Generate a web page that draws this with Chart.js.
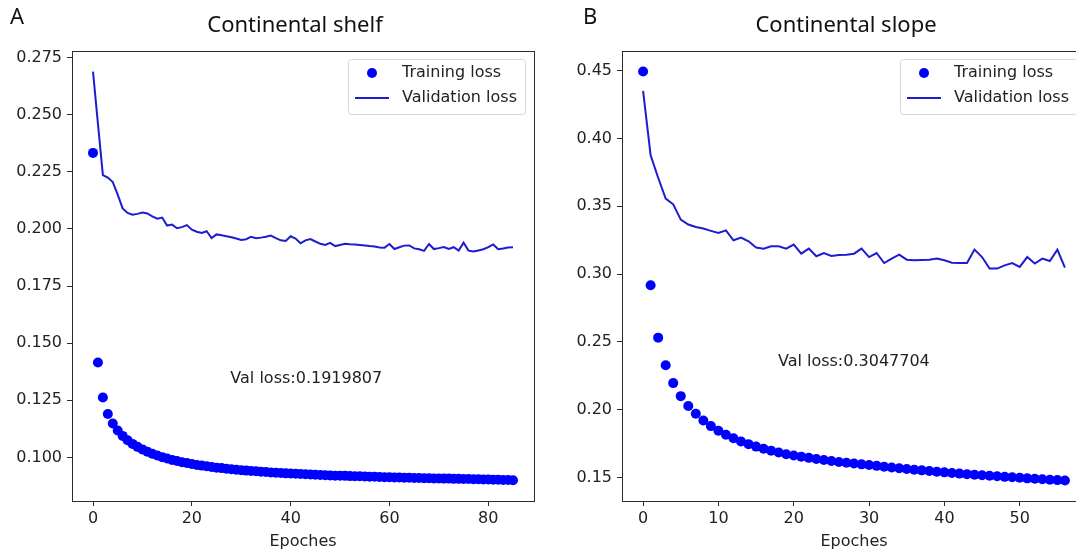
<!DOCTYPE html>
<html>
<head>
<meta charset="utf-8">
<script src="https://cdn.jsdelivr.net/npm/chart.js@4.4.1/dist/chart.umd.min.js"></script>
<style>
  html, body { margin: 0; padding: 0; background: #fff; overflow: hidden; }
  body { width: 1076px; height: 554px; position: relative; }
  canvas { position: absolute; top: 0; }
  #shelf-chart { left: 0; }
  #slope-chart { left: 560px; }
</style>
</head>
<body>
<canvas id="shelf-chart" width="560" height="554"></canvas>
<canvas id="slope-chart" width="560" height="554"></canvas>
<script>
// Panel A: continental shelf, epochs 0..85
const shelfTrainLoss = [
  0.2333, 0.1415, 0.1262, 0.1190, 0.1148, 0.1118, 0.1094, 0.1075, 0.1059, 0.1046,
  0.1035, 0.1025, 0.1016, 0.1008, 0.1001, 0.0995, 0.0989, 0.0984, 0.0979, 0.0975,
  0.0971, 0.0967, 0.0964, 0.0961, 0.0958, 0.0955, 0.0953, 0.0950, 0.0948, 0.0946,
  0.0944, 0.0942, 0.0940, 0.0939, 0.0937, 0.0936, 0.0934, 0.0933, 0.0932, 0.0930,
  0.0929, 0.0928, 0.0927, 0.0926, 0.0925, 0.0924, 0.0923, 0.0922, 0.0921, 0.0920,
  0.0920, 0.0919, 0.0918, 0.0917, 0.0917, 0.0916, 0.0915, 0.0915, 0.0914, 0.0913,
  0.0913, 0.0912, 0.0912, 0.0911, 0.0911, 0.0910, 0.0910, 0.0909, 0.0909, 0.0908,
  0.0908, 0.0907, 0.0907, 0.0906, 0.0906, 0.0905, 0.0905, 0.0904, 0.0904, 0.0903,
  0.0903, 0.0902, 0.0902, 0.0901, 0.0901, 0.0900
];
const shelfValLoss = [
  0.2689, 0.2460, 0.2236, 0.2225, 0.2205, 0.2150, 0.2090, 0.2070, 0.2062, 0.2066,
  0.2072, 0.2068, 0.2055, 0.2045, 0.2050, 0.2015, 0.2019, 0.2003, 0.2008, 0.2017,
  0.1997, 0.1988, 0.1982, 0.1990, 0.1960, 0.1976, 0.1972, 0.1968, 0.1964, 0.1958,
  0.1952, 0.1955, 0.1966, 0.1959, 0.1962, 0.1966, 0.1971, 0.1960, 0.1950, 0.1947,
  0.1968, 0.1958, 0.1937, 0.1950, 0.1956, 0.1945, 0.1935, 0.1930, 0.1939, 0.1925,
  0.1930, 0.1935, 0.1933, 0.1932, 0.1930, 0.1928, 0.1925, 0.1923, 0.1919, 0.1918,
  0.1934, 0.1912, 0.1920, 0.1927, 0.1928, 0.1915, 0.1911, 0.1904, 0.1934, 0.1912,
  0.1916, 0.1921, 0.1912, 0.1920, 0.1905, 0.1940, 0.1905, 0.1901, 0.1906, 0.1911,
  0.1920, 0.1932, 0.1911, 0.1914, 0.1919, 0.1920
];
const shelfNote = "Val loss:0.1919807";
const shelfNoteAt = [27.8, 0.1342];

// Panel B: continental slope, epochs 0..56
const slopeTrainLoss = [
  0.4493, 0.2917, 0.2531, 0.2327, 0.2196, 0.2100, 0.2027, 0.1970, 0.1921, 0.1879,
  0.1845, 0.1815, 0.1789, 0.1766, 0.1746, 0.1728, 0.1712, 0.1697, 0.1684, 0.1672,
  0.1663, 0.1654, 0.1645, 0.1637, 0.1629, 0.1622, 0.1615, 0.1609, 0.1603, 0.1597,
  0.1592, 0.1586, 0.1580, 0.1574, 0.1568, 0.1563, 0.1558, 0.1553, 0.1548, 0.1543,
  0.1538, 0.1534, 0.1529, 0.1525, 0.1521, 0.1517, 0.1513, 0.1509, 0.1505, 0.1502,
  0.1498, 0.1494, 0.1491, 0.1487, 0.1484, 0.1481, 0.1478
];
const slopeValLoss = [
  0.4350, 0.3875, 0.3710, 0.3556, 0.3514, 0.3401, 0.3365, 0.3347, 0.3335, 0.3318,
  0.3302, 0.3322, 0.3249, 0.3268, 0.3241, 0.3195, 0.3187, 0.3204, 0.3204, 0.3187,
  0.3217, 0.3150, 0.3187, 0.3131, 0.3155, 0.3133, 0.3140, 0.3143, 0.3150, 0.3187,
  0.3125, 0.3155, 0.3081, 0.3114, 0.3143, 0.3106, 0.3101, 0.3104, 0.3106, 0.3114,
  0.3101, 0.3084, 0.3082, 0.3081, 0.3180, 0.3125, 0.3040, 0.3040, 0.3064, 0.3081,
  0.3052, 0.3125, 0.3077, 0.3114, 0.3096, 0.3180, 0.3048
];
const slopeNote = "Val loss:0.3047704";
const slopeNoteAt = [17.9, 0.2353];

const seriesLabels = ["Training loss", "Validation loss"];
const xAxisLabel = "Epoches";

const DOT_COLOR = "#0000ff";
const LINE_COLOR = "#1c1cd2";
const AXIS_COLOR = "#2b2b2b";
const TEXT_COLOR = "#222";
const TICK_FONT = { family: "DejaVu Sans", size: 16 };

Chart.defaults.font.family = "DejaVu Sans";
Chart.defaults.color = TEXT_COLOR;

// frame, panel letter, title, in-plot note and matplotlib-like legend
const figurePlugin = {
  id: "figure",
  afterDraw(chart, _args, opts) {
    const { ctx, chartArea, scales } = chart;
    const area = chartArea;
    ctx.save();

    ctx.strokeStyle = AXIS_COLOR;
    ctx.lineWidth = 1;
    ctx.strokeRect(Math.round(area.left) + 0.5, Math.round(area.top) + 0.5,
      Math.round(area.right - area.left), Math.round(area.bottom - area.top));

    ctx.fillStyle = "#111";
    ctx.textBaseline = "middle";
    ctx.textAlign = "left";
    ctx.font = "22px 'Noto Sans'";
    ctx.fillText(opts.letter, opts.letterX, 18);

    ctx.textAlign = "center";
    ctx.font = "22px 'Noto Sans'";
    ctx.fillText(opts.title, (area.left + area.right) / 2 - 8, 26);

    ctx.fillStyle = TEXT_COLOR;
    ctx.textAlign = "left";
    ctx.font = "16px 'DejaVu Sans'";
    ctx.fillText(opts.note, scales.x.getPixelForValue(opts.noteAt[0]),
      scales.y.getPixelForValue(opts.noteAt[1]));

    // legend box
    const textWidth = Math.max(...seriesLabels.map((t) => ctx.measureText(t).width));
    const boxW = 54 + textWidth + 8;
    const boxH = 55;
    const boxX = area.right - 9 - boxW;
    const boxY = area.top + 8;
    ctx.beginPath();
    ctx.roundRect(boxX + 0.5, boxY + 0.5, boxW, boxH, 3);
    ctx.fillStyle = "rgba(255,255,255,0.85)";
    ctx.fill();
    ctx.strokeStyle = "#d6d6d6";
    ctx.stroke();

    const row1 = boxY + 14;
    const row2 = boxY + 39;
    ctx.fillStyle = DOT_COLOR;
    ctx.beginPath();
    ctx.arc(boxX + 24, row1, 5, 0, Math.PI * 2);
    ctx.fill();
    ctx.strokeStyle = LINE_COLOR;
    ctx.lineWidth = 2;
    ctx.beginPath();
    ctx.moveTo(boxX + 7, row2);
    ctx.lineTo(boxX + 41, row2);
    ctx.stroke();

    ctx.fillStyle = TEXT_COLOR;
    ctx.fillText(seriesLabels[0], boxX + 54, row1);
    ctx.fillText(seriesLabels[1], boxX + 54, row2);
    ctx.restore();
  }
};

function toPoints(values) {
  return values.map((y, epoch) => ({ x: epoch, y }));
}

function buildChart(canvas, cfg) {
  return new Chart(canvas, {
    type: "line",
    plugins: [figurePlugin],
    data: {
      datasets: [
        {
          label: seriesLabels[0],
          data: toPoints(cfg.train),
          showLine: false,
          pointRadius: 5,
          pointBorderWidth: 0,
          pointBackgroundColor: DOT_COLOR,
          order: 2
        },
        {
          label: seriesLabels[1],
          data: toPoints(cfg.val),
          borderColor: LINE_COLOR,
          borderWidth: 2,
          pointRadius: 0,
          tension: 0,
          order: 1
        }
      ]
    },
    options: {
      responsive: false,
      animation: false,
      devicePixelRatio: 1,
      layout: { padding: { top: 51, right: cfg.padRight, left: 0, bottom: 0 } },
      plugins: {
        legend: { display: false },
        tooltip: { enabled: false },
        figure: {
          letter: cfg.letter,
          letterX: cfg.letterX,
          title: cfg.title,
          note: cfg.note,
          noteAt: cfg.noteAt
        }
      },
      scales: {
        x: {
          type: "linear",
          min: cfg.xMin,
          max: cfg.xMax,
          border: { display: false },
          grid: { drawOnChartArea: false, tickLength: 5, color: AXIS_COLOR },
          ticks: { stepSize: cfg.xStep, includeBounds: false, font: TICK_FONT, color: TEXT_COLOR, padding: 3, maxRotation: 0 },
          title: { display: true, text: xAxisLabel, font: TICK_FONT, color: TEXT_COLOR, padding: { top: 0, bottom: 3 } },
          afterFit(scale) { scale.height = 53; }
        },
        y: {
          min: cfg.yMin,
          max: cfg.yMax,
          border: { display: false },
          grid: { drawOnChartArea: false, tickLength: 5, color: AXIS_COLOR },
          ticks: {
            stepSize: cfg.yStep,
            includeBounds: false,
            font: TICK_FONT,
            color: TEXT_COLOR,
            padding: 5,
            callback: (v) => Number(v).toFixed(cfg.yDigits)
          },
          afterFit(scale) { scale.width = cfg.axisWidth; }
        }
      }
    }
  });
}

buildChart(document.querySelector("#shelf-chart"), {
  train: shelfTrainLoss,
  val: shelfValLoss,
  letter: "A",
  letterX: 10,
  title: "Continental shelf",
  note: shelfNote,
  noteAt: shelfNoteAt,
  axisWidth: 72,
  padRight: 26,
  xMin: -4.25, xMax: 89.25, xStep: 20,
  yMin: 0.0809, yMax: 0.2779, yStep: 0.025, yDigits: 3
});

buildChart(document.querySelector("#slope-chart"), {
  train: slopeTrainLoss,
  val: slopeValLoss,
  letter: "B",
  letterX: 23,
  title: "Continental slope",
  note: slopeNote,
  noteAt: slopeNoteAt,
  axisWidth: 62,
  padRight: 34,
  xMin: -2.8, xMax: 58.8, xStep: 10,
  yMin: 0.1327, yMax: 0.4644, yStep: 0.05, yDigits: 2
});
</script>
</body>
</html>
